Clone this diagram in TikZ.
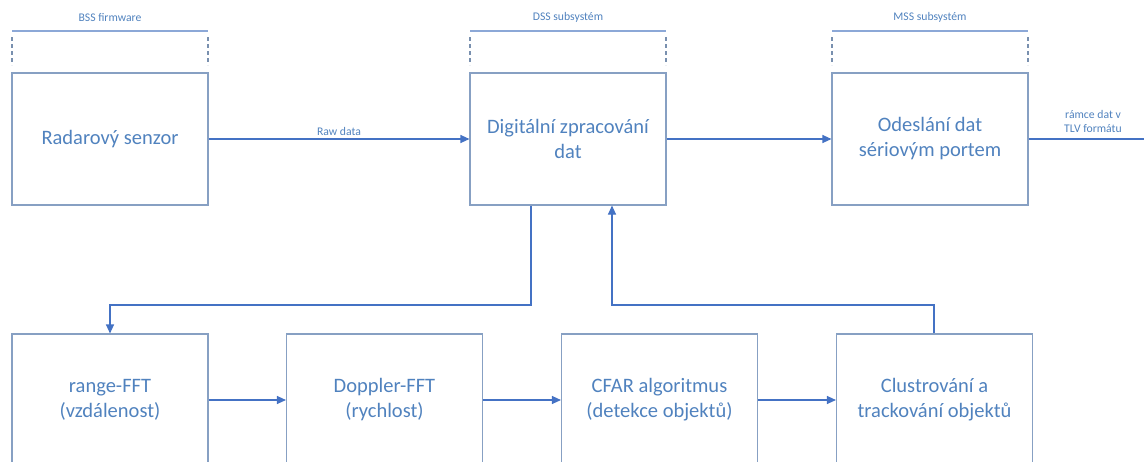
\documentclass[tikz,border=0pt]{standalone}
\usepackage{fontspec}
\setmainfont{Carlito}
\usetikzlibrary{arrows.meta}

\definecolor{boxline}{RGB}{135,160,195}
\definecolor{flow}{RGB}{68,114,196}
\definecolor{txt}{RGB}{80,130,190}
\definecolor{brace}{RGB}{140,168,215}

\tikzset{
  block/.style={draw=boxline, line width=1.1pt, minimum width=196pt,
    minimum height=132pt, align=center, text=txt,
    font=\fontsize{20.5}{25}\selectfont},
  flowline/.style={draw=flow, line width=1.1pt},
  arr/.style={flowline, -{Triangle[length=9pt,width=8pt]}},
  small/.style={text=txt, align=center, font=\fontsize{11.7}{14}\selectfont},
  rim/.style={draw=boxline!90!black, line width=1.6pt, dash pattern=on 4pt off 3pt},
}

\begin{document}
\begin{tikzpicture}[x=1pt,y=-1pt]
\useasboundingbox (0,0) rectangle (1144,461);
\clip (0,0) rectangle (1144,461);

% top row
\node[block] (radar) at (110,139) {Radarový senzor};
\node[block] (dss) at (568,139) {Digitální zpracování\\dat};
\node[block] (mss) at (930,139) {Odeslání dat\\sériovým portem};

% bottom row (runs off the lower edge)
\node[block] (range) at (110,400) {range-FFT\\(vzdálenost)};
\node[block] (doppler) at (384.5,400) {Doppler-FFT\\(rychlost)};
\node[block] (cfar) at (659.5,400) {CFAR algoritmus\\(detekce objektů)};
\node[block] (clust) at (934.5,400) {Clustrování a\\trackování objektů};

% subsystem brackets
\node[small] (bss) at (110,17) {BSS firmware};
\draw[brace, line width=1.7pt] (12,31) -- (208,31);
\draw[rim] (12,37) -- (12,65);
\draw[rim] (208,37) -- (208,65);

\node[small] (dsslabel) at (568,17) {DSS subsystém};
\draw[brace, line width=1.7pt] (470,31) -- (666,31);
\draw[rim] (470,37) -- (470,65);
\draw[rim] (666,37) -- (666,65);

\node[small] (msslabel) at (930,17) {MSS subsystém};
\draw[brace, line width=1.7pt] (832,31) -- (1028,31);
\draw[rim] (832,37) -- (832,65);
\draw[rim] (1028,37) -- (1028,65);

% data flow
\draw[arr] (radar) -- node[small, above] (raw) {Raw data} (dss);
\draw[arr] (dss) -- (mss);
\coordinate (out) at (1144,139);
\draw[flowline] (mss) -- (out);
\node[small] (tlv) at (1093,121) {rámce dat v\\TLV formátu};

% feedback loop through the processing chain
\coordinate (down) at (531,305);
\coordinate (up) at (612,305);
\coordinate (back) at (934,305);
\draw[arr] (dss.south -| down) -- (down) -| (range.north);
\draw[arr] (range) -- (doppler);
\draw[arr] (doppler) -- (cfar);
\draw[arr] (cfar) -- (clust);
\draw[arr] (clust.north -| back) -- (back) -- (up) -- (dss.south -| up);
\end{tikzpicture}
\end{document}
